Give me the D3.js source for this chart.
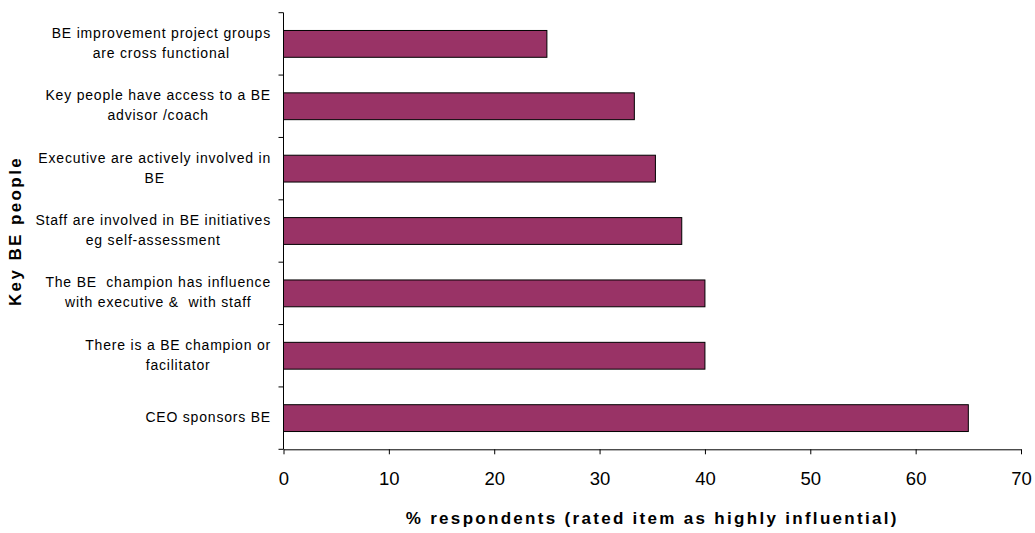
<!DOCTYPE html>
<html>
<head>
<meta charset="utf-8">
<script src="https://cdn.jsdelivr.net/npm/d3@7"></script>
<style>
  html, body { margin: 0; padding: 0; background: #fff; }
  svg { display: block; font-family: "Liberation Sans", Arial, sans-serif; }
  text { white-space: pre; }
</style>
</head>
<body>
<svg id="chart" width="1035" height="533"></svg>
<script>
// Categories, top to bottom, each split into its display lines
const categories = [
  ["BE improvement project groups", "are cross functional"],
  ["Key people have access to a BE", "advisor /coach"],
  ["Executive are actively involved in", "BE"],
  ["Staff are involved in BE initiatives", "eg self-assessment"],
  ["The BE  champion has influence", "with executive &  with staff"],
  ["There is a BE champion or", "facilitator"],
  ["CEO sponsors BE"]
];
// % respondents rating each item as highly influential
const values = [25, 33.3, 35.3, 37.8, 40, 40, 65];
const xTicks = [0, 10, 20, 30, 40, 50, 60, 70];
const xTitle = "% respondents (rated item as highly influential)";
const yTitle = "Key BE people";

const svg = d3.select("#chart");
const plotLeft = 283.5, plotRight = 1021, plotTop = 12.7, plotBottom = 449.3;

const x = d3.scaleLinear().domain([0, 70]).range([plotLeft, plotRight]);
const y = d3.scaleBand().domain(d3.range(categories.length)).range([plotTop, plotBottom]).padding(0);
const barH = y.bandwidth() * 0.43;

// bars
svg.append("g").selectAll("rect")
  .data(values)
  .join("rect")
  .attr("x", x(0))
  .attr("y", (d, i) => y(i) + y.bandwidth() / 2 - barH / 2)
  .attr("width", d => x(d) - x(0))
  .attr("height", barH)
  .attr("fill", "#993366")
  .attr("stroke", "#000")
  .attr("stroke-width", 1);

// x axis
const xAxis = svg.append("g")
  .attr("transform", `translate(0,${plotBottom})`)
  .call(d3.axisBottom(x).tickValues(xTicks).tickSize(5).tickPadding(18).tickSizeOuter(0));
xAxis.select(".domain").attr("stroke", "#000");
xAxis.selectAll(".tick line").attr("stroke", "#000");
xAxis.selectAll(".tick text")
  .attr("font-size", 18.5)
  .attr("font-family", "Liberation Sans, Arial, sans-serif")
  .attr("fill", "#000");

// y axis: ticks sit on the category boundaries
const yAxisG = svg.append("g");
yAxisG.append("line")
  .attr("x1", plotLeft).attr("x2", plotLeft)
  .attr("y1", plotTop).attr("y2", plotBottom)
  .attr("stroke", "#000");
const boundaries = d3.range(categories.length + 1).map(i => plotTop + i * y.step());
yAxisG.selectAll("line.tk")
  .data(boundaries)
  .join("line")
  .attr("class", "tk")
  .attr("x1", plotLeft - 5).attr("x2", plotLeft)
  .attr("y1", d => d).attr("y2", d => d)
  .attr("stroke", "#000");

// category labels: a right-aligned block with its lines centred inside it
const labelRight = 271;
const lineGap = 20;
const labels = svg.append("g");
categories.forEach((lines, i) => {
  const cy = y(i) + y.bandwidth() / 2 - 1;
  const g = labels.append("g");
  const texts = lines.map((ln, j) => g.append("text")
    .attr("y", cy + (j - (lines.length - 1) / 2) * lineGap)
    .attr("dy", "0.36em")
    .attr("text-anchor", "middle")
    .attr("font-size", 14)
    .attr("letter-spacing", 0.8)
    .attr("fill", "#000")
    .text(ln));
  const w = d3.max(texts, t => t.node().getComputedTextLength());
  texts.forEach(t => t.attr("x", labelRight - w / 2));
});

// axis titles
svg.append("text")
  .attr("x", (plotLeft + plotRight) / 2)
  .attr("y", 518)
  .attr("dy", "0.36em")
  .attr("text-anchor", "middle")
  .attr("font-size", 17)
  .attr("font-weight", "bold")
  .attr("letter-spacing", 2.3)
  .text(xTitle);

svg.append("text")
  .attr("transform", `translate(15,${(plotTop + plotBottom) / 2}) rotate(-90)`)
  .attr("dy", "0.36em")
  .attr("text-anchor", "middle")
  .attr("font-size", 17)
  .attr("font-weight", "bold")
  .attr("letter-spacing", 2.4)
  .text(yTitle);
</script>
</body>
</html>
